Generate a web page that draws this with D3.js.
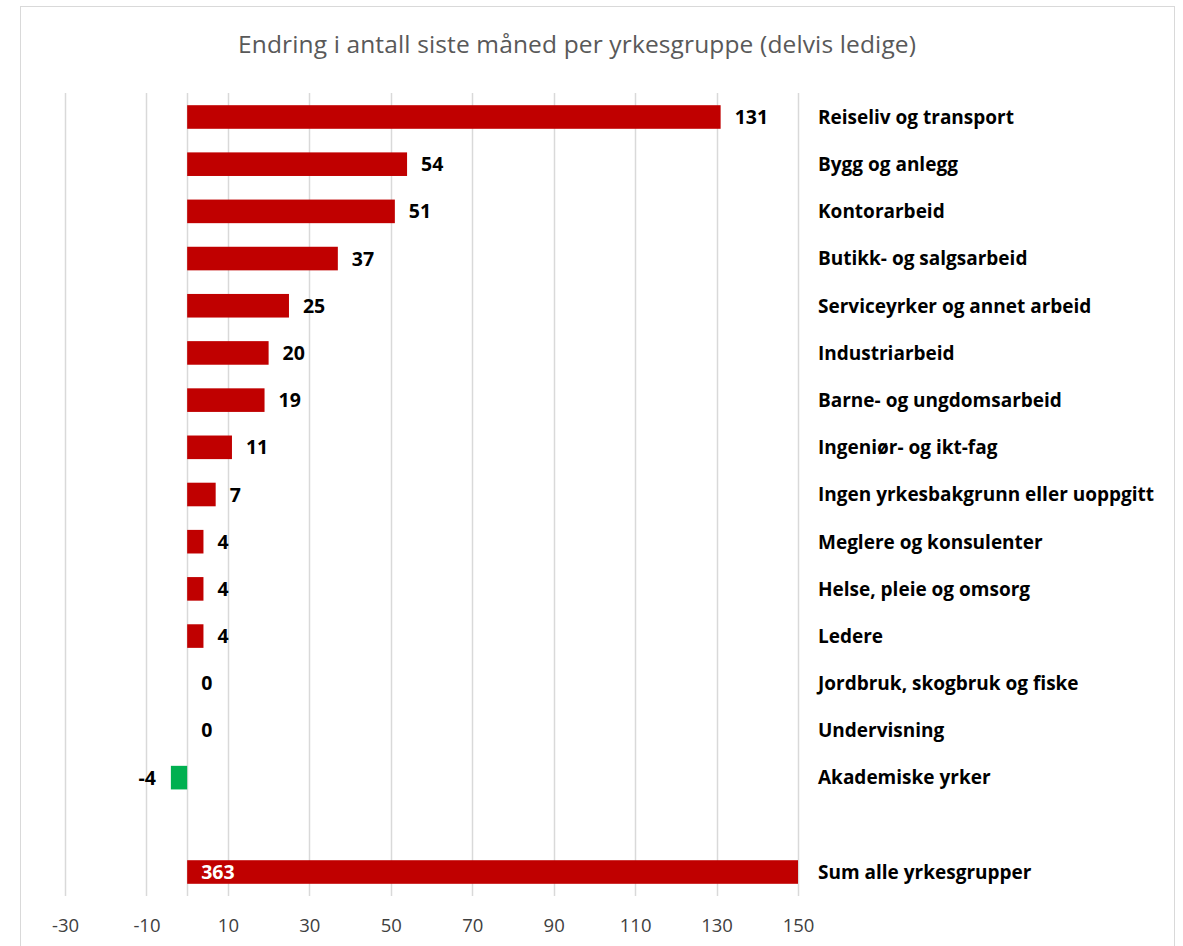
<!DOCTYPE html>
<html><head><meta charset="utf-8">
<script src="https://cdn.jsdelivr.net/npm/d3@7"></script>
<style>
body{margin:0;background:#fff;}
svg{display:block;font-family:"Open Sans","Liberation Sans",sans-serif;}
</style></head>
<body>
<script>
const categories = ["Reiseliv og transport","Bygg og anlegg","Kontorarbeid","Butikk- og salgsarbeid","Serviceyrker og annet arbeid","Industriarbeid","Barne- og ungdomsarbeid","Ingeniør- og ikt-fag","Ingen yrkesbakgrunn eller uoppgitt","Meglere og konsulenter","Helse, pleie og omsorg","Ledere","Jordbruk, skogbruk og fiske","Undervisning","Akademiske yrker","","Sum alle yrkesgrupper"];
const values = [131,54,51,37,25,20,19,11,7,4,4,4,0,0,-4,null,363];
const tickValues = [-30,-10,10,30,50,70,90,110,130,150];
const title = "Endring i antall siste måned per yrkesgruppe (delvis ledige)";

const W=1183,H=946;
const svg=d3.select("body").append("svg").attr("width",W).attr("height",H);
svg.append("rect").attr("x",20.5).attr("y",6.5).attr("width",1154).attr("height",960).attr("fill","#fff").attr("stroke","#d9d9d9");

const x=d3.scaleLinear().domain([-30,150]).range([65,798]);
const rows=categories.map((c,i)=>({key:i,name:c,value:values[i]}));
const y=d3.scaleBand().domain(rows.map(d=>d.key)).range([93.4,895.6]).paddingInner(0.5).paddingOuter(0.25);

svg.append("text").attr("x",577).attr("y",53).attr("text-anchor","middle").attr("font-size",24.5).attr("fill","#595959").attr("textLength",678).text(title);

// gridlines
svg.append("g").selectAll("line").data(tickValues.concat([0])).join("line")
  .attr("x1",d=>Math.round(x(d))+0.5).attr("x2",d=>Math.round(x(d))+0.5)
  .attr("y1",93).attr("y2",896).attr("stroke","#d9d9d9").attr("stroke-width",1.5);

// axis
const ax=svg.append("g").attr("transform","translate(0,896)").call(d3.axisBottom(x).tickValues(tickValues).tickFormat(d=>String(d)).tickSize(0).tickPadding(23));
ax.select(".domain").remove();
ax.selectAll("text").attr("font-size",18.5).attr("fill","#404040").attr("font-family","'Open Sans','Liberation Sans',sans-serif");

const data=rows.filter(d=>d.value!==null);
svg.append("g").selectAll("rect").data(data).join("rect")
  .attr("x",d=>x(Math.min(0,d.value)))
  .attr("y",d=>y(d.key))
  .attr("width",d=>Math.abs(x(Math.min(d.value,150))-x(0)))
  .attr("height",y.bandwidth())
  .attr("fill",d=>d.value<0?"#00b050":"#c00000");

// value labels
svg.append("g").selectAll("text").data(data).join("text")
  .attr("x",d=>{
    if(d.value>150) return x(0)+14;
    if(d.value<0) return x(d.value)-15;
    return x(d.value)+14;
  })
  .attr("y",d=>y(d.key)+y.bandwidth()/2)
  .attr("dy","0.36em")
  .attr("text-anchor",d=>d.value<0?"end":"start")
  .attr("font-size",19.5).attr("font-weight","bold")
  .attr("fill",d=>d.value>150?"#fff":"#000")
  .text(d=>d.value);

// category labels
svg.append("g").selectAll("text").data(rows).join("text")
  .attr("x",818).attr("y",d=>y(d.key)+y.bandwidth()/2).attr("dy","0.36em")
  .attr("font-size",19).attr("font-weight","bold").attr("fill","#000")
  .text(d=>d.name);
</script>
</body></html>
